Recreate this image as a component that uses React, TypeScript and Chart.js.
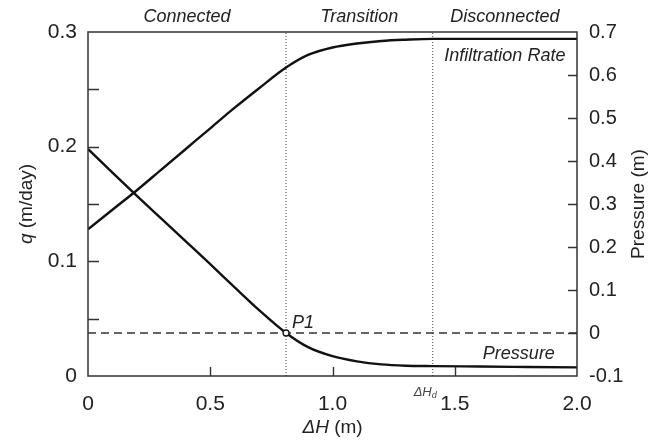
import { useEffect, useRef } from 'react';
import { Chart, registerables } from 'chart.js';

Chart.register(...registerables);

// Head difference ΔH (m) at which the curves are sampled
const deltaH = [0, 0.1, 0.2, 0.3, 0.4, 0.5, 0.6, 0.7, 0.81, 0.9, 1.0, 1.1, 1.2, 1.3, 1.41, 1.6, 1.8, 2.0];
// Infiltration rate q (m/day), left axis
const infiltrationRate = [0.128, 0.145, 0.162, 0.18, 0.198, 0.216, 0.234, 0.251, 0.269, 0.28, 0.2865, 0.29, 0.2922, 0.2933, 0.294, 0.294, 0.294, 0.294];
// Pressure (m), right axis
const pressure = [0.428, 0.373, 0.319, 0.266, 0.213, 0.16, 0.106, 0.053, 0.0, -0.033, -0.054, -0.066, -0.073, -0.076, -0.077, -0.078, -0.079, -0.08];

// Regime boundaries
const p1DeltaH = 0.81;
const deltaHd = 1.41;
const zoneNames = ['Connected', 'Transition', 'Disconnected'];

// Axis ticks and labels
const xTickLabels = ['0', '0.5', '1.0', '1.5', '2.0'];
const xTickValues = [0.5, 1.0, 1.5];
const qTickLabels = ['0', '0.1', '0.2', '0.3'];
const qTickValues = [0.05, 0.1, 0.15, 0.2, 0.25];
const pressureTickLabels = ['-0.1', '0', '0.1', '0.2', '0.3', '0.4', '0.5', '0.6', '0.7'];
const pressureTickValues = [0, 0.1, 0.2, 0.3, 0.4, 0.5, 0.6];

const FONT = '"Liberation Sans", Arial, sans-serif';
const INK = '#111';
const TEXT = '#222';

const decorations = {
  id: 'decorations',
  afterDatasetsDraw(chart: any) {
    const { ctx, chartArea: a, scales } = chart;
    const sx = scales.x;
    const sq = scales.y;
    const sp = scales.y1;
    ctx.save();

    // frame
    ctx.strokeStyle = '#333';
    ctx.lineWidth = 1.5;
    ctx.setLineDash([]);
    ctx.strokeRect(a.left, a.top, a.right - a.left, a.bottom - a.top);

    // inward ticks
    ctx.lineWidth = 1.4;
    ctx.beginPath();
    for (const v of qTickValues) {
      const py = Math.round(sq.getPixelForValue(v)) + 0.5;
      ctx.moveTo(a.left, py);
      ctx.lineTo(a.left + 11, py);
    }
    for (const v of pressureTickValues) {
      const py = Math.round(sp.getPixelForValue(v)) + 0.5;
      ctx.moveTo(a.right, py);
      ctx.lineTo(a.right - 9, py);
    }
    for (const v of xTickValues) {
      const px = Math.round(sx.getPixelForValue(v)) + 0.5;
      ctx.moveTo(px, a.bottom);
      ctx.lineTo(px, a.bottom - 9);
    }
    ctx.stroke();

    // regime names above the frame
    const bounds = [sx.getPixelForValue(0), sx.getPixelForValue(p1DeltaH), sx.getPixelForValue(deltaHd), sx.getPixelForValue(2)];
    ctx.fillStyle = TEXT;
    ctx.font = `italic 18px ${FONT}`;
    ctx.textAlign = 'center';
    ctx.textBaseline = 'middle';
    zoneNames.forEach((name, i) => {
      ctx.fillText(name, (bounds[i] + bounds[i + 1]) / 2, 17);
    });

    // curve names
    const discCenter = (bounds[2] + bounds[3]) / 2;
    ctx.fillText('Infiltration Rate', discCenter, 56);
    ctx.fillText('Pressure', discCenter + 14, 354);

    // P1 label
    ctx.textAlign = 'left';
    ctx.fillText('P1', sx.getPixelForValue(p1DeltaH) + 6, sp.getPixelForValue(0) - 10);

    // ΔHd label under the axis
    const hdX = sx.getPixelForValue(deltaHd);
    ctx.font = `italic 13px ${FONT}`;
    ctx.fillStyle = '#444';
    ctx.textAlign = 'right';
    ctx.fillText('ΔH', hdX - 1, a.bottom + 16);
    ctx.font = `italic 9px ${FONT}`;
    ctx.textAlign = 'left';
    ctx.fillText('d', hdX - 1, a.bottom + 19);

    // x-axis title
    ctx.fillStyle = TEXT;
    const t1 = 'ΔH';
    const t2 = ' (m)';
    ctx.font = `19px ${FONT}`;
    const w2 = ctx.measureText(t2).width;
    ctx.font = `italic 19px ${FONT}`;
    const w1 = ctx.measureText(t1).width;
    const cx = (a.left + a.right) / 2;
    const ty = 428;
    ctx.textAlign = 'left';
    ctx.fillText(t1, cx - (w1 + w2) / 2, ty);
    ctx.font = `19px ${FONT}`;
    ctx.fillText(t2, cx - (w1 + w2) / 2 + w1, ty);

    // left axis title
    const cy = (a.top + a.bottom) / 2;
    ctx.save();
    ctx.translate(27, cy);
    ctx.rotate(-Math.PI / 2);
    const q1 = 'q';
    const q2 = ' (m/day)';
    ctx.font = `italic 19px ${FONT}`;
    const qw1 = ctx.measureText(q1).width;
    ctx.font = `19px ${FONT}`;
    const qw2 = ctx.measureText(q2).width;
    ctx.font = `italic 19px ${FONT}`;
    ctx.fillText(q1, -(qw1 + qw2) / 2, 0);
    ctx.font = `19px ${FONT}`;
    ctx.fillText(q2, -(qw1 + qw2) / 2 + qw1, 0);
    ctx.restore();

    // right axis title
    ctx.save();
    ctx.translate(639, cy);
    ctx.rotate(-Math.PI / 2);
    ctx.font = `19px ${FONT}`;
    ctx.textAlign = 'center';
    ctx.fillText('Pressure (m)', 0, 0);
    ctx.restore();

    ctx.restore();
  },
};

export default function App() {
  const canvasRef = useRef<HTMLCanvasElement | null>(null);

  useEffect(() => {
    const canvas = canvasRef.current;
    if (!canvas) return;

    const rateData = deltaH.map((x, i) => ({ x, y: infiltrationRate[i] }));
    const pressureData = deltaH.map((x, i) => ({ x, y: pressure[i] }));

    const chart = new Chart(canvas, {
      type: 'line',
      data: {
        datasets: [
          {
            label: 'P1',
            data: [{ x: p1DeltaH, y: 0 }],
            yAxisID: 'y1',
            showLine: false,
            pointRadius: 3,
            pointBackgroundColor: '#fff',
            pointBorderColor: INK,
            pointBorderWidth: 1.3,
          },
          {
            label: 'Infiltration Rate',
            data: rateData,
            yAxisID: 'y',
            borderColor: INK,
            borderWidth: 2.4,
            pointRadius: 0,
            cubicInterpolationMode: 'monotone',
          },
          {
            label: 'Pressure',
            data: pressureData,
            yAxisID: 'y1',
            borderColor: INK,
            borderWidth: 2.4,
            pointRadius: 0,
            cubicInterpolationMode: 'monotone',
          },
          {
            label: 'Zero pressure',
            data: [{ x: 0, y: 0 }, { x: 2, y: 0 }],
            yAxisID: 'y1',
            borderColor: '#333',
            borderWidth: 1.6,
            borderDash: [8, 5],
            pointRadius: 0,
          },
          {
            label: 'P1 boundary',
            data: [{ x: p1DeltaH, y: 0 }, { x: p1DeltaH, y: 0.3 }],
            yAxisID: 'y',
            borderColor: '#444',
            borderWidth: 1,
            borderDash: [1, 2],
            pointRadius: 0,
          },
          {
            label: 'ΔHd boundary',
            data: [{ x: deltaHd, y: 0 }, { x: deltaHd, y: 0.3 }],
            yAxisID: 'y',
            borderColor: '#444',
            borderWidth: 1,
            borderDash: [1, 2],
            pointRadius: 0,
          },
        ],
      },
      options: {
        responsive: false,
        animation: false,
        layout: { padding: { top: 32, left: 0, right: 0, bottom: 0 } },
        plugins: {
          legend: { display: false },
          tooltip: { enabled: false },
        },
        scales: {
          x: {
            type: 'linear',
            min: 0,
            max: 2,
            grid: { display: false, drawTicks: false },
            border: { display: false },
            ticks: {
              stepSize: 0.5,
              padding: 16,
              color: TEXT,
              font: { family: FONT, size: 21 },
              maxRotation: 0,
              callback: (_v: any, i: number) => xTickLabels[i],
            },
            afterFit: (s: any) => {
              s.height = 65;
            },
          },
          y: {
            type: 'linear',
            position: 'left',
            min: 0,
            max: 0.3,
            grid: { display: false, drawTicks: false },
            border: { display: false },
            ticks: {
              stepSize: 0.1,
              padding: 11,
              color: TEXT,
              font: { family: FONT, size: 21 },
              callback: (_v: any, i: number) => qTickLabels[i],
            },
            afterFit: (s: any) => {
              s.width = 88;
            },
          },
          y1: {
            type: 'linear',
            position: 'right',
            min: -0.1,
            max: 0.7,
            grid: { display: false, drawTicks: false },
            border: { display: false },
            ticks: {
              stepSize: 0.1,
              padding: 12,
              color: TEXT,
              font: { family: FONT, size: 20 },
              callback: (_v: any, i: number) => pressureTickLabels[i],
            },
            afterFit: (s: any) => {
              s.width = 81;
            },
          },
        },
      },
      plugins: [decorations],
    });

    return () => {
      chart.destroy();
    };
  }, []);

  return (
    <div style={{ position: 'absolute', left: 0, top: 0, width: 658, height: 441, background: '#fff' }}>
      <canvas ref={canvasRef} width={658} height={441} />
    </div>
  );
}
